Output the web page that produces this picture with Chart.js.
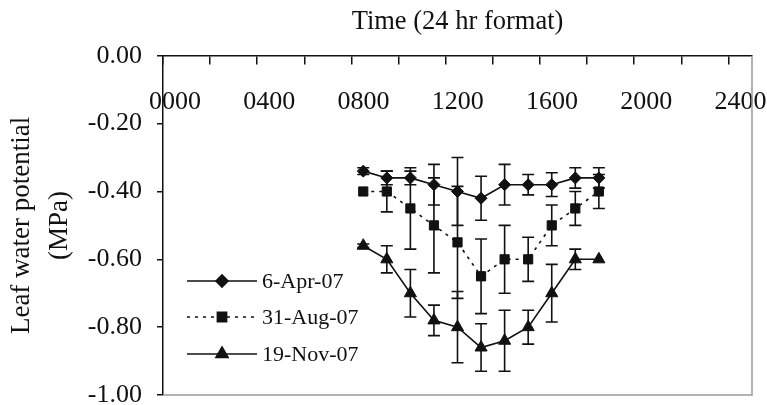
<!DOCTYPE html>
<html>
<head>
<meta charset="utf-8">
<script src="https://cdn.jsdelivr.net/npm/chart.js@4/dist/chart.umd.min.js"></script>
<style>
  html, body { margin: 0; padding: 0; background: #fff; }
</style>
</head>
<body>
<canvas id="chart" width="767" height="405"></canvas>
<script>
// time of day (24 hr, hhmm as a number)
const times = [800, 900, 1000, 1100, 1200, 1300, 1400, 1500, 1600, 1700, 1800];

// leaf water potential (MPa) and error bar half-widths
const apr = [-0.34, -0.36, -0.36, -0.38, -0.40, -0.42, -0.38, -0.38, -0.38, -0.36, -0.36];
const aprErr = [0.01, 0.02, 0.02, 0.06, 0.10, 0.065, 0.06, 0.03, 0.035, 0.03, 0.03];
const aug = [-0.40, -0.40, -0.45, -0.50, -0.55, -0.65, -0.60, -0.60, -0.50, -0.45, -0.40];
const augErr = [0, 0.06, 0.12, 0.14, 0.165, 0.11, 0.10, 0.065, 0.06, 0.05, 0.05];
const nov = [-0.56, -0.60, -0.70, -0.78, -0.80, -0.86, -0.84, -0.80, -0.70, -0.60, -0.60];
const novErr = [0.005, 0.04, 0.07, 0.045, 0.105, 0.07, 0.09, 0.05, 0.085, 0.03, 0];

const seriesNames = ['6-Apr-07', '31-Aug-07', '19-Nov-07'];
const xTickLabels = ['0000', '', '0400', '', '0800', '', '1200', '', '1600', '', '2000', '', '2400'];
const xTitle = 'Time (24 hr format)';
const yTitle = ['Leaf water potential', '(MPa)'];

// the axis runs half a minor step past 0000 and 2400, tick marks sit that much left of the labels
const X_MIN = -50, X_MAX = 2450, X_STEP = 200;

const FONT = 'Liberation Serif, Times New Roman, serif';
const errs = [aprErr, augErr, novErr];

function pts(vals) {
    return times.map((t, i) => ({x: t, y: vals[i]}));
}

// error bars, drawn under the markers
const errorBars = {
    id: 'errorBars',
    beforeDatasetsDraw(chart) {
        const ctx = chart.ctx;
        const x = chart.scales.x, y = chart.scales.y;
        ctx.save();
        ctx.strokeStyle = '#111';
        ctx.lineWidth = 1.6;
        chart.data.datasets.forEach((ds, d) => {
            ds.data.forEach((p, i) => {
                const e = errs[d][i];
                if (!e) return;
                const px = x.getPixelForValue(p.x);
                const top = y.getPixelForValue(p.y + e);
                const bot = y.getPixelForValue(p.y - e);
                ctx.beginPath();
                ctx.moveTo(px, top); ctx.lineTo(px, bot);
                ctx.moveTo(px - 6, top); ctx.lineTo(px + 6, top);
                ctx.moveTo(px - 6, bot); ctx.lineTo(px + 6, bot);
                ctx.stroke();
            });
        });
        ctx.restore();
    }
};

// plot frame (grey right and bottom edges) and the legend inside the plot
const frameAndLegend = {
    id: 'frameAndLegend',
    afterDraw(chart) {
        const ctx = chart.ctx;
        const a = chart.chartArea;
        ctx.save();
        ctx.strokeStyle = '#9a9a9a';
        ctx.lineWidth = 1.5;
        ctx.beginPath();
        ctx.moveTo(a.right, a.top);
        ctx.lineTo(a.right, a.bottom);
        ctx.lineTo(a.left, a.bottom);
        ctx.stroke();

        const rows = [281, 317, 354];
        chart.data.datasets.forEach((ds, d) => {
            const ly = rows[d];
            ctx.strokeStyle = '#111';
            ctx.lineWidth = ds.borderWidth;
            ctx.setLineDash(ds.borderDash || []);
            ctx.beginPath();
            ctx.moveTo(187, ly);
            ctx.lineTo(257, ly);
            ctx.stroke();
            ctx.setLineDash([]);
            ctx.fillStyle = '#111';
            Chart.helpers.drawPoint(ctx, {
                pointStyle: ds.pointStyle,
                radius: ds.pointRadius,
                rotation: 0,
                borderWidth: 1
            }, 222, ly);
            ctx.fillStyle = '#111';
            ctx.font = '22px ' + FONT;
            ctx.textBaseline = 'middle';
            ctx.textAlign = 'left';
            ctx.fillText(ds.label, 262, ly + 1);
        });
        ctx.restore();
    }
};

const common = {
    borderColor: '#111',
    backgroundColor: '#111',
    pointBackgroundColor: '#111',
    pointBorderColor: '#111',
    pointBorderWidth: 1,
    borderWidth: 1.6,
    tension: 0
};

new Chart(document.getElementById('chart'), {
    type: 'line',
    data: {
        datasets: [
            Object.assign({label: seriesNames[0], data: pts(apr), pointStyle: 'rectRot', pointRadius: 6}, common),
            Object.assign({label: seriesNames[1], data: pts(aug), pointStyle: 'rect', pointRadius: 6.5, borderDash: [3, 5]}, common),
            Object.assign({label: seriesNames[2], data: pts(nov), pointStyle: 'triangle', pointRadius: 7}, common)
        ]
    },
    options: {
        responsive: false,
        animation: false,
        devicePixelRatio: 1,
        layout: {padding: {left: 0, right: 15, top: 0, bottom: 10}},
        plugins: {
            legend: {display: false},
            tooltip: {enabled: false},
            title: {
                display: true,
                fullSize: false,
                text: xTitle,
                color: '#111',
                font: {family: FONT, size: 26.5, weight: 'normal', lineHeight: 1.2},
                padding: {top: 6, bottom: 18}
            }
        },
        scales: {
            x: {
                type: 'linear',
                position: {y: 0},
                min: X_MIN,
                max: X_MAX,
                afterBuildTicks: s => {
                    s.ticks = xTickLabels.map((_, k) => ({value: X_MIN + k * X_STEP}));
                },
                afterFit: s => {
                    s.paddingLeft = 0; s.paddingRight = 0;
                    s.paddingTop = 0; s.paddingBottom = 0;
                },
                grid: {drawOnChartArea: false, color: '#111', tickLength: 8, lineWidth: 1.5},
                border: {color: '#111', width: 1.5},
                ticks: {
                    color: '#111',
                    padding: 23,
                    labelOffset: 12,
                    maxRotation: 0,
                    autoSkip: false,
                    font: {family: FONT, size: 26},
                    callback: (v, i) => xTickLabels[i]
                }
            },
            y: {
                min: -1,
                max: 0,
                afterFit: s => {
                    s.width = 163;
                    s.paddingTop = 0; s.paddingBottom = 0;
                },
                grid: {drawOnChartArea: false, color: '#111', tickLength: 6, lineWidth: 1.5},
                border: {color: '#111', width: 1.5},
                ticks: {
                    stepSize: 0.2,
                    color: '#111',
                    padding: 15,
                    font: {family: FONT, size: 26, lineHeight: 0.8},
                    callback: v => Number(v).toFixed(2)
                },
                title: {
                    display: true,
                    text: yTitle,
                    color: '#111',
                    font: {family: FONT, size: 27, lineHeight: 1.41},
                    padding: {top: 3, bottom: 0}
                }
            }
        }
    },
    plugins: [errorBars, frameAndLegend]
});
</script>
</body>
</html>
